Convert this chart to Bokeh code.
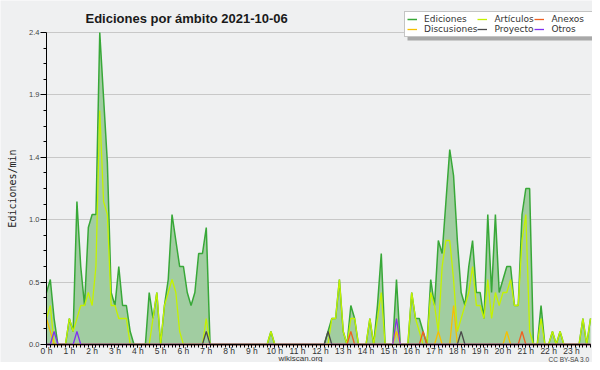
from bokeh.plotting import figure
from bokeh.models import (Range1d, FixedTicker, Legend, LegendItem, Label,
                          ColumnDataSource, PrintfTickFormatter, BoxAnnotation)
from bokeh.embed import file_html
from bokeh.resources import INLINE

# ---------------- data (edits per minute, 10-minute bins, 2021-10-06) ----------------
bins = list(range(144))

ediciones = [
    0.4, 0.5, 0.2, 0, 0, 0, 0.2, 0.1, 1.1, 0.6, 0.3, 0.9,
    1.0, 1.0, 2.4, 1.9, 1.4, 0.4, 0.3, 0.6, 0.3, 0.3, 0.1, 0,
    0, 0, 0, 0.4, 0.2, 0.4, 0, 0.3, 0.5, 1.0, 0.8, 0.6,
    0.6, 0.4, 0.3, 0.4, 0.7, 0.7, 0.9, 0, 0, 0, 0, 0,
    0, 0, 0, 0, 0, 0, 0, 0, 0, 0, 0, 0.1,
    0, 0, 0, 0, 0, 0, 0, 0, 0, 0, 0, 0,
    0, 0, 0.1, 0.2, 0.2, 0.5, 0.1, 0, 0.3, 0.2, 0, 0,
    0, 0.2, 0, 0.3, 0.7, 0, 0, 0, 0.5, 0, 0, 0,
    0.4, 0.2, 0.2, 0.1, 0, 0.5, 0.3, 0.8, 0.7, 1.1, 1.5, 1.3,
    0.8, 0.4, 0.3, 0.6, 0.8, 0.4, 0.4, 0.2, 1.0, 0.4, 1.0, 0.4,
    0.5, 0.6, 0.6, 0.3, 0.3, 1.0, 1.2, 1.2, 0, 0, 0.3, 0,
    0, 0.1, 0, 0.1, 0, 0, 0, 0, 0, 0.2, 0, 0.2,
]

articulos = [
    0.2, 0.3, 0, 0, 0, 0, 0.2, 0.1, 0.2, 0.3, 0.3, 0.4,
    0.3, 0.6, 1.8, 1.1, 1.0, 0.3, 0.3, 0.2, 0.2, 0.2, 0, 0,
    0, 0, 0, 0, 0.2, 0.4, 0, 0.3, 0.4, 0.5, 0.4, 0.1,
    0, 0, 0, 0, 0, 0, 0.2, 0, 0, 0, 0, 0,
    0, 0, 0, 0, 0, 0, 0, 0, 0, 0, 0, 0.1,
    0, 0, 0, 0, 0, 0, 0, 0, 0, 0, 0, 0,
    0, 0, 0, 0.2, 0.2, 0.5, 0.1, 0, 0.2, 0.2, 0, 0,
    0, 0.2, 0, 0.2, 0.4, 0, 0, 0, 0.2, 0, 0, 0,
    0.4, 0.2, 0.1, 0, 0, 0.4, 0.3, 0.1, 0.6, 0.8, 0.8, 0.5,
    0.1, 0.2, 0.3, 0.4, 0.6, 0.3, 0.3, 0.2, 0.5, 0.2, 0.4, 0.3,
    0.4, 0.4, 0.5, 0.3, 0.3, 0.8, 1.0, 0.1, 0, 0, 0.2, 0,
    0, 0.1, 0, 0.1, 0, 0, 0, 0, 0, 0.2, 0, 0.2,
]

discusiones = [
    0.2, 0.1, 0, 0, 0, 0, 0, 0, 0, 0, 0, 0,
    0, 0, 0, 0, 0, 0, 0, 0, 0, 0, 0, 0,
    0, 0, 0, 0, 0, 0, 0, 0, 0, 0, 0, 0,
    0, 0, 0, 0, 0, 0, 0, 0, 0, 0, 0, 0,
    0, 0, 0, 0, 0, 0, 0, 0, 0, 0, 0, 0,
    0, 0, 0, 0, 0, 0, 0, 0, 0, 0, 0, 0,
    0, 0, 0, 0, 0, 0, 0, 0, 0, 0, 0, 0,
    0, 0, 0, 0, 0, 0, 0, 0, 0.1, 0, 0, 0,
    0, 0, 0, 0, 0, 0, 0, 0.1, 0, 0, 0, 0.3,
    0, 0, 0, 0, 0, 0, 0, 0, 0, 0, 0, 0,
    0, 0.1, 0, 0, 0, 0, 0, 0, 0, 0, 0, 0,
    0, 0, 0, 0, 0, 0, 0, 0, 0, 0, 0, 0,
]

anexos = [
    0, 0, 0, 0, 0, 0, 0, 0, 0, 0, 0, 0,
    0, 0, 0, 0, 0, 0, 0, 0, 0, 0, 0, 0,
    0, 0, 0, 0, 0, 0, 0, 0, 0, 0, 0, 0,
    0, 0, 0, 0, 0, 0, 0, 0, 0, 0, 0, 0,
    0, 0, 0, 0, 0, 0, 0, 0, 0, 0, 0, 0,
    0, 0, 0, 0, 0, 0, 0, 0, 0, 0, 0, 0,
    0, 0, 0, 0, 0, 0, 0, 0, 0.1, 0, 0, 0,
    0, 0, 0, 0, 0, 0, 0, 0, 0, 0, 0, 0,
    0, 0, 0, 0.1, 0, 0, 0, 0, 0, 0, 0, 0,
    0, 0, 0, 0, 0, 0, 0, 0, 0, 0, 0, 0,
    0, 0, 0, 0, 0, 0.1, 0, 0, 0, 0, 0, 0,
    0, 0, 0, 0, 0, 0, 0, 0, 0, 0, 0, 0,
]

proyecto = [
    0, 0, 0, 0, 0, 0, 0, 0, 0, 0, 0, 0,
    0, 0, 0, 0, 0, 0, 0, 0, 0, 0, 0, 0,
    0, 0, 0, 0, 0, 0, 0, 0, 0, 0, 0, 0,
    0, 0, 0, 0, 0, 0, 0.1, 0, 0, 0, 0, 0,
    0, 0, 0, 0, 0, 0, 0, 0, 0, 0, 0, 0,
    0, 0, 0, 0, 0, 0, 0, 0, 0, 0, 0, 0,
    0, 0, 0.1, 0, 0, 0, 0, 0, 0, 0, 0, 0,
    0, 0, 0, 0, 0, 0, 0, 0, 0, 0, 0, 0,
    0, 0, 0, 0, 0, 0, 0, 0, 0, 0, 0, 0,
    0, 0.1, 0, 0, 0, 0, 0, 0, 0, 0, 0, 0,
    0, 0, 0, 0, 0, 0, 0, 0, 0, 0, 0, 0,
    0, 0, 0, 0, 0, 0, 0, 0, 0, 0, 0, 0,
]

otros = [
    0, 0, 0.1, 0, 0, 0, 0, 0, 0.1, 0, 0, 0,
    0, 0, 0, 0, 0, 0, 0, 0, 0, 0, 0, 0,
    0, 0, 0, 0, 0, 0, 0, 0, 0, 0, 0, 0,
    0, 0, 0, 0, 0, 0, 0, 0, 0, 0, 0, 0,
    0, 0, 0, 0, 0, 0, 0, 0, 0, 0, 0, 0,
    0, 0, 0, 0, 0, 0, 0, 0, 0, 0, 0, 0,
    0, 0, 0, 0, 0, 0, 0, 0, 0, 0, 0, 0,
    0, 0, 0, 0, 0, 0, 0, 0, 0.2, 0, 0, 0,
    0, 0, 0, 0, 0, 0, 0, 0, 0, 0, 0, 0,
    0, 0, 0, 0, 0, 0, 0, 0, 0, 0, 0, 0,
    0, 0, 0, 0, 0, 0, 0, 0, 0, 0, 0, 0,
    0, 0, 0, 0, 0, 0, 0, 0, 0, 0, 0, 0,
]

hour_ticks = [0, 6, 12, 18, 24, 30, 36, 42, 48, 54, 60, 66,
              72, 78, 84, 90, 96, 102, 108, 114, 120, 126, 132, 138]
hour_labels = ["0 h", "1 h", "2 h", "3 h", "4 h", "5 h", "6 h", "7 h",
               "8 h", "9 h", "10 h", "11 h", "12 h", "13 h", "14 h", "15 h",
               "16 h", "17 h", "18 h", "19 h", "20 h", "21 h", "22 h", "23 h"]
y_ticks = [0, 0.48, 0.96, 1.44, 1.92, 2.4]
y_minor = [0.12, 0.24, 0.36, 0.6, 0.72, 0.84, 1.08, 1.2, 1.32,
           1.56, 1.68, 1.8, 2.04, 2.16, 2.28]
x_first, x_last = 0, 143
y_top = 2.4

title_text = "Ediciones por ámbito  2021-10-06"
y_label = "Ediciones/min"

# ---------------- layout (canvas pixels, origin top-left) ----------------
W, H = 592, 362
PLOT_L, PLOT_R = 46, 590       # canvas x of first / last bin
PLOT_T, PLOT_B = 32, 344       # canvas y of y_top / 0
BG = "#eff0f1"

# the frame fills the whole canvas; axes are pinned at x=0 / y=0
px_x = (PLOT_R - PLOT_L) / (x_last - x_first)
px_y = (PLOT_B - PLOT_T) / y_top
x_lo = x_first - PLOT_L / px_x
x_hi = x_last + (W - PLOT_R) / px_x
y_lo = -(H - PLOT_B) / px_y
y_hi = y_top + PLOT_T / px_y

def sx(cx):      # canvas x -> frame screen x
    return cx

def sy(cy):      # canvas y (down) -> frame screen y (up)
    return H - cy

p = figure(width=W, height=H, output_backend="svg", toolbar_location=None,
           title=None,
           x_range=Range1d(x_lo, x_hi), y_range=Range1d(y_lo, y_hi),
           min_border_left=0, min_border_right=0,
           min_border_top=0, min_border_bottom=0,
           background_fill_color=BG, border_fill_color=BG,
           outline_line_color=None)

src = ColumnDataSource(dict(x=bins, ediciones=ediciones, articulos=articulos,
                            discusiones=discusiones, anexos=anexos,
                            proyecto=proyecto, otros=otros))

# horizontal grid lines at the value ticks, limited to the plot area
p.xgrid.visible = False
g = p.ygrid[0]
if "cross_bounds" in g.properties():
    g.cross_bounds = (x_first, x_last)
    g.grid_line_color = "#c8c8c8"
    g.grid_line_width = 1
else:
    g.visible = False
    p.segment(x0=x_first, x1=x_last, y0=y_ticks, y1=y_ticks,
              line_color="#c8c8c8", line_width=1)

p.varea(x="x", y1=0, y2="ediciones", source=src, fill_color="#a1cda1")
r_ed = p.line("x", "ediciones", source=src, line_color="#38a838", line_width=1.5)
r_ar = p.line("x", "articulos", source=src, line_color="#c4f200", line_width=1.3)
r_di = p.line("x", "discusiones", source=src, line_color="#f5c000", line_width=1.3)
r_an = p.line("x", "anexos", source=src, line_color="#f06020", line_width=1.3)
r_pr = p.line("x", "proyecto", source=src, line_color="#4a4a4a", line_width=1.3)
r_ot = p.line("x", "otros", source=src, line_color="#8030f0", line_width=1.3)

# axes (pinned at the zero lines)
p.xaxis.fixed_location = 0
p.xaxis.bounds = (x_first, x_last)
p.xaxis.ticker = FixedTicker(ticks=hour_ticks, minor_ticks=bins)
p.xaxis.major_label_overrides = dict(zip(hour_ticks, hour_labels))
p.xaxis.major_tick_out = 3
p.xaxis.major_tick_in = 0
p.xaxis.minor_tick_out = 3
p.xaxis.minor_tick_in = 0
p.xaxis.major_label_standoff = -2
p.xaxis.major_label_text_font = "Liberation Sans"
p.xaxis.major_label_text_font_size = "8.5px"
p.xaxis.major_label_text_color = "#333333"

p.yaxis.fixed_location = 0
p.yaxis.bounds = (0, y_top)
p.yaxis.ticker = FixedTicker(ticks=y_ticks, minor_ticks=y_minor)
p.yaxis.formatter = PrintfTickFormatter(format="%.1f")
p.yaxis.major_tick_out = 6
p.yaxis.major_tick_in = 0
p.yaxis.minor_tick_out = 3
p.yaxis.minor_tick_in = 0
p.yaxis.major_label_standoff = 1
p.yaxis.major_label_text_font = "Liberation Sans"
p.yaxis.major_label_text_font_size = "7.5px"
p.yaxis.major_label_text_color = "#444444"

for ax in (p.xaxis, p.yaxis):
    ax.axis_line_color = "black"
    ax.major_tick_line_color = "black"
    ax.minor_tick_line_color = "black"

# texts
p.add_layout(Label(x=sx(85), y=sy(18.3), x_units="screen", y_units="screen",
                   text=title_text, text_font="Liberation Sans",
                   text_font_style="bold", text_font_size="13px",
                   text_baseline="alphabetic", text_color="#1a1a1a"))
p.add_layout(Label(x=sx(12), y=sy(188), x_units="screen", y_units="screen",
                   text=y_label, angle=1.5707963, text_font="DejaVu Sans Mono",
                   text_font_size="10px", text_align="center",
                   text_baseline="alphabetic", text_color="#222222"))
p.add_layout(Label(x=sx(300), y=sy(358.3), x_units="screen", y_units="screen",
                   text="wikiscan.org", text_font="Liberation Sans",
                   text_font_size="8px", text_align="center",
                   text_baseline="alphabetic", text_color="#333333"))
p.add_layout(Label(x=sx(589), y=sy(358.8), x_units="screen", y_units="screen",
                   text="CC BY-SA 3.0", text_font="Liberation Sans",
                   text_font_size="6.5px", text_align="right",
                   text_baseline="alphabetic", text_color="#444444"))

# legend with a drop shadow
LEG_L, LEG_T, LEG_B, LEG_R = 404, 11, 37, 592
p.add_layout(BoxAnnotation(left=sx(LEG_L + 3), right=sx(LEG_R + 3),
                           top=sy(LEG_T + 3), bottom=sy(LEG_B + 3),
                           left_units="screen", right_units="screen",
                           top_units="screen", bottom_units="screen",
                           fill_color="#a8a8a8", fill_alpha=1.0,
                           line_color=None))

items = [LegendItem(label="Ediciones", renderers=[r_ed]),
         LegendItem(label="Artículos", renderers=[r_ar]),
         LegendItem(label="Anexos", renderers=[r_an]),
         LegendItem(label="Discusiones", renderers=[r_di]),
         LegendItem(label="Proyecto", renderers=[r_pr]),
         LegendItem(label="Otros", renderers=[r_ot])]

legend = Legend(items=items, location=(sx(LEG_L), sy(LEG_B)),
                orientation="horizontal", ncols=3, margin=0, padding=2,
                spacing=0, glyph_width=10, glyph_height=10, label_height=10,
                label_width=40, label_standoff=7, label_text_font="DejaVu Sans",
                label_text_font_size="9px", label_text_color="#333333",
                background_fill_color="white", background_fill_alpha=1.0,
                border_line_color="#8a8a8a")
p.add_layout(legend, "center")

open("out.html", "w").write(file_html(p, INLINE, title="Ediciones por ámbito"))
